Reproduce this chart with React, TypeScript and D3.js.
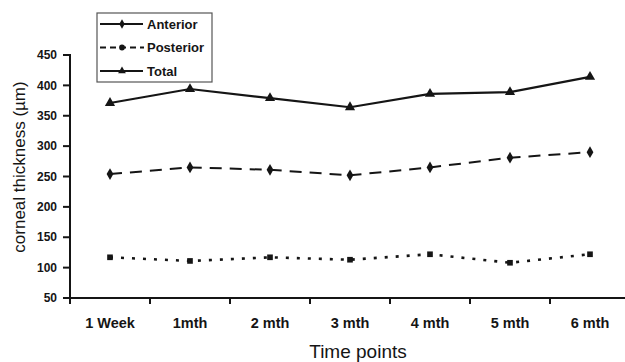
import { useEffect } from 'react'
import * as d3 from 'd3'

const timePoints = ['1 Week', '1mth', '2 mth', '3 mth', '4 mth', '5 mth', '6 mth']
const anterior = [254, 265, 261, 252, 265, 281, 290]
const posterior = [117, 111, 117, 113, 122, 108, 122]
const total = [371, 394, 379, 364, 386, 389, 414]
const yTicks = [50, 100, 150, 200, 250, 300, 350, 400, 450]

const W = 625
const H = 362
const font = '"Liberation Sans", Arial, sans-serif'
const ink = '#151515'

export default function App() {
  useEffect(() => {
    document.body.style.margin = '0'
  }, [])

  // band scale across the plot; right edge runs off the picture like the original
  const x = d3.scaleBand<string>().domain(timePoints).range([70, 630])
  const y = d3.scaleLinear().domain([50, 450]).range([298, 55])
  const cx = (i: number) => (x(timePoints[i]) ?? 0) + x.bandwidth() / 2

  const line = d3
    .line<number>()
    .x((_, i) => cx(i))
    .y(d => y(d))

  const series = [
    { name: 'Anterior', data: anterior, dash: '12,8', width: 2, symbol: d3.symbolDiamond, size: 40 },
    { name: 'Posterior', data: posterior, dash: '3,8', width: 2.6, symbol: d3.symbolSquare, size: 32 },
    { name: 'Total', data: total, dash: null, width: 2.2, symbol: d3.symbolTriangle, size: 45 },
  ]

  // legend samples as drawn in the reference
  const legend = [
    { label: 'Anterior', dash: null, symbol: d3.symbolDiamond },
    { label: 'Posterior', dash: '6,4', symbol: d3.symbolCircle },
    { label: 'Total', dash: null, symbol: d3.symbolTriangle },
  ]

  const xTickPos = d3.range(timePoints.length + 1).map(i => 70 + i * x.step())

  return (
    <svg width={W} height={H} style={{ display: 'block', background: '#fff' }}>
      {/* y axis */}
      <line x1={70} x2={70} y1={y(450) - 1} y2={y(50)} stroke={ink} strokeWidth={2} />
      {yTicks.map(t => (
        <g key={t}>
          <line x1={63} x2={70} y1={y(t)} y2={y(t)} stroke={ink} strokeWidth={2} />
          <text
            x={57}
            y={y(t)}
            dy="0.35em"
            textAnchor="end"
            fontFamily={font}
            fontWeight="bold"
            fontSize={12}
            fill={ink}
          >
            {t}
          </text>
        </g>
      ))}
      <text
        transform={`translate(25,167) rotate(-90)`}
        textAnchor="middle"
        fontFamily={font}
        fontSize={17}
        fill={ink}
      >
        corneal thickness (µm)
      </text>

      {/* x axis */}
      <line x1={69} x2={630} y1={y(50)} y2={y(50)} stroke={ink} strokeWidth={2} />
      {xTickPos.map((p, i) => (
        <line key={i} x1={p} x2={p} y1={y(50)} y2={y(50) + 6} stroke={ink} strokeWidth={2} />
      ))}
      {timePoints.map((t, i) => (
        <text
          key={t}
          x={cx(i)}
          y={328}
          textAnchor="middle"
          fontFamily={font}
          fontWeight="bold"
          fontSize={14.5}
          fill={ink}
        >
          {t}
        </text>
      ))}
      <text x={358} y={358} textAnchor="middle" fontFamily={font} fontSize={19} fill={ink}>
        Time points
      </text>

      {/* series */}
      {series.map(s => (
        <g key={s.name}>
          <path
            d={line(s.data) ?? ''}
            fill="none"
            stroke={ink}
            strokeWidth={s.width}
            strokeDasharray={s.dash ?? undefined}
          />
          {s.data.map((v, i) => (
            <path
              key={i}
              transform={`translate(${cx(i)},${y(v)})`}
              d={d3.symbol().type(s.symbol).size(s.size)() ?? ''}
              fill={ink}
            />
          ))}
        </g>
      ))}

      {/* legend */}
      <rect x={97} y={13} width={115} height={69} fill="#fff" stroke="#555" strokeWidth={1.2} />
      {legend.map((l, i) => {
        const ly = 24 + i * 23.5
        return (
          <g key={l.label}>
            <line
              x1={100}
              x2={l.dash ? 144 : 143}
              y1={ly}
              y2={ly}
              stroke={ink}
              strokeWidth={2}
              strokeDasharray={l.dash ?? undefined}
            />
            <path
              transform={`translate(122,${ly})`}
              d={d3.symbol().type(l.symbol).size(26)() ?? ''}
              fill={ink}
            />
            <text
              x={147}
              y={ly}
              dy="0.36em"
              fontFamily={font}
              fontWeight="bold"
              fontSize={13}
              fill={ink}
            >
              {l.label}
            </text>
          </g>
        )
      })}
    </svg>
  )
}
